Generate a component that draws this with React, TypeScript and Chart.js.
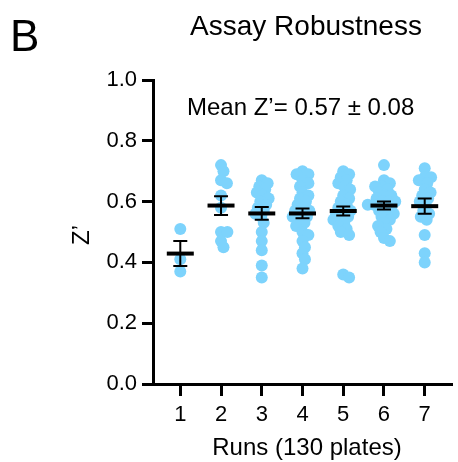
import React, { useEffect, useRef } from 'react';
import { Chart, registerables } from 'chart.js';

Chart.register(...registerables);

// ---- data ----
const categories = [1, 2, 3, 4, 5, 6, 7];
const xTickLabels = ['1', '2', '3', '4', '5', '6', '7'];
const yTickValues = [0, 0.2, 0.4, 0.6, 0.8, 1.0];

const run1 = [0.51, 0.41, 0.37];
const run2 = [0.72, 0.70, 0.67, 0.66, 0.62, 0.58, 0.50, 0.50, 0.47, 0.45];
const run3 = [0.67, 0.66, 0.65, 0.64, 0.63, 0.62, 0.61, 0.60, 0.59, 0.58, 0.57, 0.56, 0.55, 0.53, 0.50, 0.47, 0.44, 0.39, 0.35];
const run4 = [0.70, 0.69, 0.69, 0.67, 0.66, 0.65, 0.63, 0.62, 0.61, 0.60, 0.59, 0.58, 0.57, 0.57, 0.56, 0.55, 0.55, 0.54, 0.53, 0.52, 0.50, 0.49, 0.47, 0.45, 0.43, 0.41, 0.38];
const run5 = [0.70, 0.69, 0.68, 0.67, 0.66, 0.65, 0.64, 0.62, 0.61, 0.60, 0.59, 0.58, 0.57, 0.57, 0.56, 0.55, 0.55, 0.54, 0.53, 0.52, 0.51, 0.50, 0.49, 0.36, 0.35];
const run6 = [0.72, 0.67, 0.66, 0.65, 0.65, 0.64, 0.63, 0.62, 0.62, 0.61, 0.60, 0.60, 0.60, 0.59, 0.59, 0.58, 0.58, 0.57, 0.56, 0.56, 0.55, 0.54, 0.53, 0.52, 0.51, 0.50, 0.48, 0.47];
const run7 = [0.71, 0.68, 0.68, 0.67, 0.66, 0.64, 0.63, 0.62, 0.61, 0.60, 0.59, 0.57, 0.56, 0.55, 0.54, 0.49, 0.43, 0.40];
const runs = [run1, run2, run3, run4, run5, run6, run7];

const means = [0.429, 0.587, 0.561, 0.561, 0.569, 0.587, 0.585];
const sems = [0.041, 0.031, 0.021, 0.016, 0.015, 0.013, 0.025];

const titleText = 'Assay Robustness';
const panelLabel = 'B';
const annotationText = 'Mean Z\u2019= 0.57 \u00b1 0.08';
const xTitle = 'Runs (130 plates)';
const yTitle = 'Z\u2019';

// ---- style ----
const FONT = '"Liberation Sans", Arial, Helvetica, sans-serif';
const POINT_COLOR = 'rgb(125, 211, 252)';
const X_MIN = 0.33;
const X_MAX = 7.67;
const PX_PER_X = 41.55;
const PX_PER_Y = 304;
const MIN_DIST = 6.5;

function swarm(values: number[], center: number) {
  const order = values.map((_, i) => i).sort((a, b) => values[b] - values[a]);
  const placed: { x: number; y: number }[] = [];
  const out: { x: number; y: number }[] = new Array(values.length);
  for (const i of order) {
    const y = values[i] * PX_PER_Y;
    let best = 0;
    for (let k = 0; k < 400; k++) {
      const step = Math.ceil(k / 2) * 0.5;
      const cand = k === 0 ? 0 : k % 2 ? step : -step;
      if (placed.every((p) => Math.hypot(p.x - cand, p.y - y) >= MIN_DIST)) {
        best = cand;
        break;
      }
    }
    placed.push({ x: best, y });
    out[i] = { x: center + best / PX_PER_X, y: values[i] };
  }
  return out;
}

const errorBarPlugin = {
  id: 'errorBars',
  afterDatasetsDraw(chart: any) {
    const { ctx } = chart;
    const xs = chart.scales.x;
    const ys = chart.scales.y;
    ctx.save();
    ctx.strokeStyle = '#000';
    categories.forEach((c, i) => {
      const x = xs.getPixelForValue(c);
      const ym = ys.getPixelForValue(means[i]);
      const yt = ys.getPixelForValue(means[i] + sems[i]);
      const yb = ys.getPixelForValue(means[i] - sems[i]);
      ctx.lineWidth = 2;
      ctx.beginPath();
      ctx.moveTo(x, yt);
      ctx.lineTo(x, yb);
      ctx.moveTo(x - 7, yt);
      ctx.lineTo(x + 7, yt);
      ctx.moveTo(x - 7, yb);
      ctx.lineTo(x + 7, yb);
      ctx.stroke();
      ctx.lineWidth = 4;
      ctx.beginPath();
      ctx.moveTo(x - 13.5, ym);
      ctx.lineTo(x + 13.5, ym);
      ctx.stroke();
    });
    ctx.restore();
  },
};

const textPlugin = {
  id: 'texts',
  afterDraw(chart: any) {
    const { ctx } = chart;
    ctx.save();
    ctx.fillStyle = '#000';
    ctx.textBaseline = 'alphabetic';
    ctx.textAlign = 'left';
    ctx.font = `44px ${FONT}`;
    ctx.fillText(panelLabel, 10, 51);
    ctx.textAlign = 'center';
    ctx.font = `28px ${FONT}`;
    ctx.fillText(titleText, 306, 35);
    ctx.textAlign = 'left';
    ctx.font = `24px ${FONT}`;
    ctx.fillText(annotationText, 187, 115);
    ctx.textAlign = 'center';
    ctx.fillText(xTitle, 307, 455);
    ctx.translate(89, 235);
    ctx.rotate(-Math.PI / 2);
    ctx.fillText(yTitle, 0, 0);
    ctx.restore();
  },
};

export default function App() {
  const ref = useRef<HTMLCanvasElement | null>(null);
  useEffect(() => {
    document.body.style.margin = '0';
    if (!ref.current) return;
    const datasets = runs.map((r, i) => ({
      label: `Run ${categories[i]}`,
      data: swarm(r, categories[i]),
      backgroundColor: POINT_COLOR,
      borderWidth: 0,
      pointRadius: 6,
      pointHoverRadius: 6,
      showLine: false,
    }));
    const chart = new Chart(ref.current, {
      type: 'scatter',
      data: { datasets },
      options: {
        animation: false,
        responsive: false,
        devicePixelRatio: 1,
        layout: { padding: { top: 80, left: 0, right: 0, bottom: 0 } },
        plugins: { legend: { display: false }, tooltip: { enabled: false }, title: { display: false } },
        scales: {
          x: {
            type: 'linear',
            min: X_MIN,
            max: X_MAX,
            afterBuildTicks: (scale: any) => {
              scale.ticks = categories.map((v) => ({ value: v }));
            },
            afterFit: (scale: any) => {
              scale.height = 78;
            },
            ticks: {
              color: '#000',
              font: { family: FONT, size: 22 },
              padding: 6,
              maxRotation: 0,
              autoSkip: false,
              callback: (_v: any, i: number) => xTickLabels[i],
            },
            grid: { drawOnChartArea: false, drawTicks: true, tickLength: 12, tickWidth: 3, tickColor: '#000' },
            border: { display: true, color: '#000', width: 3 },
          },
          y: {
            type: 'linear',
            min: 0,
            max: 1,
            afterBuildTicks: (scale: any) => {
              scale.ticks = yTickValues.map((v) => ({ value: v }));
            },
            afterFit: (scale: any) => {
              scale.width = 153;
            },
            ticks: {
              color: '#000',
              font: { family: FONT, size: 22 },
              padding: 5,
              callback: (v: any) => Number(v).toFixed(1),
            },
            grid: { drawOnChartArea: false, drawTicks: true, tickLength: 11, tickWidth: 3, tickColor: '#000' },
            border: { display: true, color: '#000', width: 3 },
          },
        },
      },
      plugins: [errorBarPlugin, textPlugin],
    });
    return () => chart.destroy();
  }, []);
  return (
    <div style={{ position: 'absolute', left: 0, top: 0, width: 458, height: 462, background: '#fff' }}>
      <canvas ref={ref} width={458} height={462} style={{ width: 458, height: 462 }} />
    </div>
  );
}
